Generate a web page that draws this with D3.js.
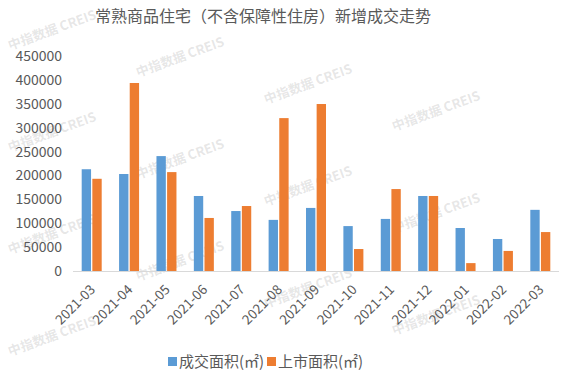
<!DOCTYPE html>
<html><head><meta charset="utf-8">
<script src="https://cdn.jsdelivr.net/npm/d3@7"></script>
<style>body{margin:0;background:#fff}svg{display:block}</style>
</head><body>
<svg id="c" width="575" height="375"></svg>
<script>
const categories = ["2021-03","2021-04","2021-05","2021-06","2021-07","2021-08","2021-09","2021-10","2021-11","2021-12","2022-01","2022-02","2022-03"];
const dealArea = [213000,203000,240500,157000,125500,107000,132000,94000,109000,157000,90000,67000,128000];
const listedArea = [193000,393500,207000,111000,136000,320000,349500,46000,171500,157000,16500,42000,81500];
const seriesNames = ["成交面积(㎡)","上市面积(㎡)"];
const yTicks = [0,50000,100000,150000,200000,250000,300000,350000,400000,450000];
const colors = ["#5b9bd5","#ed7d31"];
const title = "常熟商品住宅（不含保障性住房）新增成交走势";
const watermark = "中指数据 CREIS";

const svg = d3.select("#c");
const font = "'Noto Sans CJK SC','Microsoft YaHei',sans-serif";
const x = d3.scaleBand().domain(categories).range([73,559]).paddingInner(0.465).paddingOuter(0.2325);
const xs = d3.scaleBand().domain([0,1]).range([0,x.bandwidth()]).paddingInner(0.12);
const y = d3.scaleLinear().domain([0,450000]).range([271,56]);

// watermark tiles (behind)
const wm = svg.append("g").attr("pointer-events","none");
for(let i=0;i<5;i++){
  for(let j=-1;j<4;j++){
    const cx = 52+128*i, cy = 30+27*i+102*j;
    if(cx-50<0||cx+50>575||cy-20<0||cy+20>375) continue;
    wm.append("text").attr("transform",`translate(${cx},${cy}) rotate(-20)`)
      .attr("text-anchor","middle").attr("dy","0.35em")
      .attr("font-family",font).attr("font-weight","bold").attr("font-size",13)
      .attr("fill","#808080").attr("fill-opacity",0.2).text(watermark);
  }
}

svg.append("text").attr("x",263).attr("y",22).attr("text-anchor","middle")
  .attr("font-family",font).attr("font-size",16).attr("fill","#595959").text(title);

const yAxis = svg.append("g").attr("transform","translate(65,0)")
  .call(d3.axisLeft(y).tickValues(yTicks).tickSize(0).tickPadding(3).tickFormat(d3.format("d")));
yAxis.select(".domain").remove();
yAxis.selectAll("text").attr("font-family",font).attr("font-size",14).attr("fill","#595959");

const data = [dealArea, listedArea];
data.forEach((vals,si)=>{
  svg.append("g").selectAll("rect").data(vals).join("rect")
    .attr("x",(d,i)=>x(categories[i])+xs(si))
    .attr("width",xs.bandwidth())
    .attr("y",d=>y(d)).attr("height",d=>y(0)-y(d))
    .attr("fill",colors[si]);
});

svg.append("line").attr("x1",73).attr("x2",559).attr("y1",y(0)+0.5).attr("y2",y(0)+0.5)
  .attr("stroke","#d9d9d9").attr("stroke-width",1);

svg.append("g").selectAll("text").data(categories).join("text")
  .attr("transform",d=>`translate(${x(d)+x.bandwidth()/2+1},${287}) rotate(-45)`)
  .attr("text-anchor","end").attr("dy","0.35em")
  .attr("font-family",font).attr("font-size",13.5).attr("fill","#595959").text(d=>d);

const leg = [{x:168,tx:179},{x:267,tx:278}];
seriesNames.forEach((n,i)=>{
  svg.append("rect").attr("x",leg[i].x).attr("y",357).attr("width",9).attr("height",9).attr("fill",colors[i]);
  svg.append("text").attr("x",leg[i].tx).attr("y",367).attr("font-family",font).attr("font-size",15)
    .attr("fill","#595959").text(n);
});
</script>
</body></html>
